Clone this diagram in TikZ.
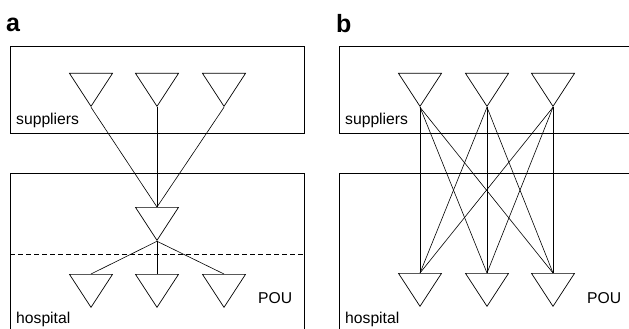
\documentclass[tikz,border=0pt]{standalone}
\usepackage{fontspec}
\setmainfont{Liberation Sans}
\usetikzlibrary{shapes.geometric}
\begin{document}
\begin{tikzpicture}[x=1pt,y=-1pt,
  frame/.style={line width=0.9pt},
  tri/.style={draw, isosceles triangle, isosceles triangle stretches,
    shape border rotate=270, minimum width=43pt, minimum height=33pt,
    inner sep=0pt, line width=0.7pt, anchor=lower side},
  link/.style={line width=0.6pt},
  divider/.style={line width=0.9pt, dash pattern=on 5pt off 3pt},
  lbl/.style={anchor=base west, inner sep=0pt, font=\fontsize{15.7}{18}\selectfont},
  panel/.style={anchor=base west, inner sep=0pt, font=\fontsize{25}{28}\selectfont\bfseries}]
\useasboundingbox (0,0) rectangle (629,329);
\clip (0,0) rectangle (629,329);

% ---------- panel a: consolidated distribution ----------
\node[panel] (la) at (6,31.5) {a};
\draw[frame] (10,46) rectangle (304,133);
\draw[frame] (10,340) -- (10,173) -- (304,173) -- (304,340);
\draw[divider] (10,254) -- (304,254);

\node[tri] (as1) at (91,73) {};
\node[tri] (as2) at (157,73) {};
\node[tri] (as3) at (224,73) {};
\node[tri] (ah)  at (157,207) {};
\node[tri] (ap1) at (91,274) {};
\node[tri] (ap2) at (157,274) {};
\node[tri] (ap3) at (224,274) {};

\foreach \s in {as1,as2,as3}
  \draw[link] (\s.apex) -- (ah.lower side);
\foreach \p in {ap1,ap2,ap3}
  \draw[link] (ah.apex) -- (\p.lower side);

\node[lbl] (sa) at (16,124) {suppliers};
\node[lbl] (ha) at (16,323) {hospital};
\node[lbl] (pa) at (258,303.5) {POU};

% ---------- panel b: direct distribution ----------
\node[panel] (lb) at (336,33) {b};
\draw[frame] (640,46) -- (339,46) -- (339,133) -- (640,133);
\draw[frame] (640,173) -- (339,173) -- (339,340);

\node[tri] (bs1) at (420,73) {};
\node[tri] (bs2) at (487,73) {};
\node[tri] (bs3) at (553,73) {};
\node[tri] (bp1) at (420,273) {};
\node[tri] (bp2) at (487,273) {};
\node[tri] (bp3) at (553,273) {};

\foreach \s in {bs1,bs2,bs3}
  \foreach \p in {bp1,bp2,bp3}
    \draw[link] (\s.apex) -- (\p.lower side);

\node[lbl] (sb) at (345,124) {suppliers};
\node[lbl] (hb) at (345,323) {hospital};
\node[lbl] (pb) at (587,303.5) {POU};
\end{tikzpicture}
\end{document}
